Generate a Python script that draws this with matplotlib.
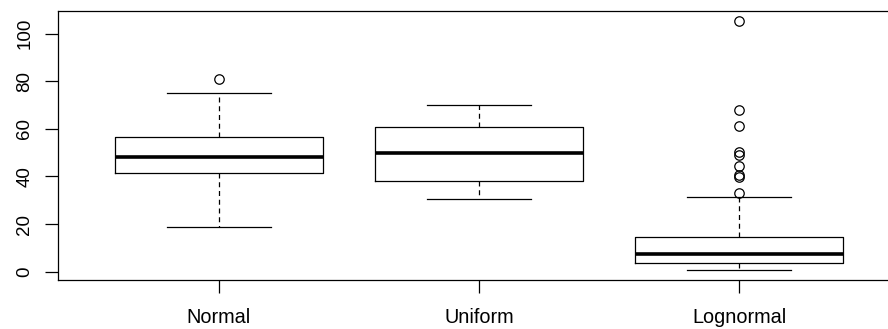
import numpy as np
import matplotlib
matplotlib.use("Agg")
from matplotlib import pyplot as plt

#=================================================
# DATA (five-number summaries plus outliers)
#=================================================
labels = ["Normal", "Uniform", "Lognormal"]
whisker_low = [18.9, 30.7, 0.7]
q1 = [41.3, 38.1, 3.5]
median = [48.1, 50.0, 7.4]
q3 = [56.7, 60.9, 14.5]
whisker_high = [75.2, 70.0, 31.3]
outliers = [
    [81.0],
    [],
    [105.5, 67.9, 61.2, 50.4, 49.0, 44.5, 40.6, 39.9, 32.9],
]
yticks = [0, 20, 40, 60, 80, 100]

#=================================================
# PLOT
#=================================================
plt.rcParams['font.family'] = ['Liberation Sans', 'DejaVu Sans']

stats = []
for i in range(len(labels)):
    stats.append(dict(label=labels[i], whislo=whisker_low[i], q1=q1[i],
                      med=median[i], q3=q3[i], whishi=whisker_high[i],
                      fliers=outliers[i]))

fig = plt.figure(figsize=(8.88, 3.29), dpi=100)
ax = fig.add_axes([0.065, 0.149, 0.949, 0.8185])

ax.bxp(stats, positions=[1, 2, 3], widths=0.8,
       boxprops=dict(color='black', linewidth=0.9),
       medianprops=dict(color='black', linewidth=2.6, solid_capstyle='butt'),
       whiskerprops=dict(color='black', linewidth=0.9, linestyle=(0, (4, 3))),
       capprops=dict(color='black', linewidth=0.9),
       capwidths=0.4,
       flierprops=dict(marker='o', markerfacecolor='none',
                       markeredgecolor='black', markersize=6.8,
                       markeredgewidth=0.9))

ax.set_xlim(0.38, 3.62)
ax.set_ylim(-3.5, 109.7)
ax.set_yticks(yticks)
ax.set_xticks([1, 2, 3])
ax.set_xticklabels(labels)

ax.spines['right'].set_visible(False)
for s in ['left', 'top', 'bottom']:
    ax.spines[s].set_linewidth(0.9)

ax.tick_params(axis='both', length=9.5, width=0.9, color='black')
ax.tick_params(axis='x', labelsize=14.3, pad=11)
ax.tick_params(axis='y', labelsize=13.5, pad=8, labelrotation=90)
for t in ax.get_yticklabels():
    t.set_va('center')

fig.savefig('out.png', dpi=100)
